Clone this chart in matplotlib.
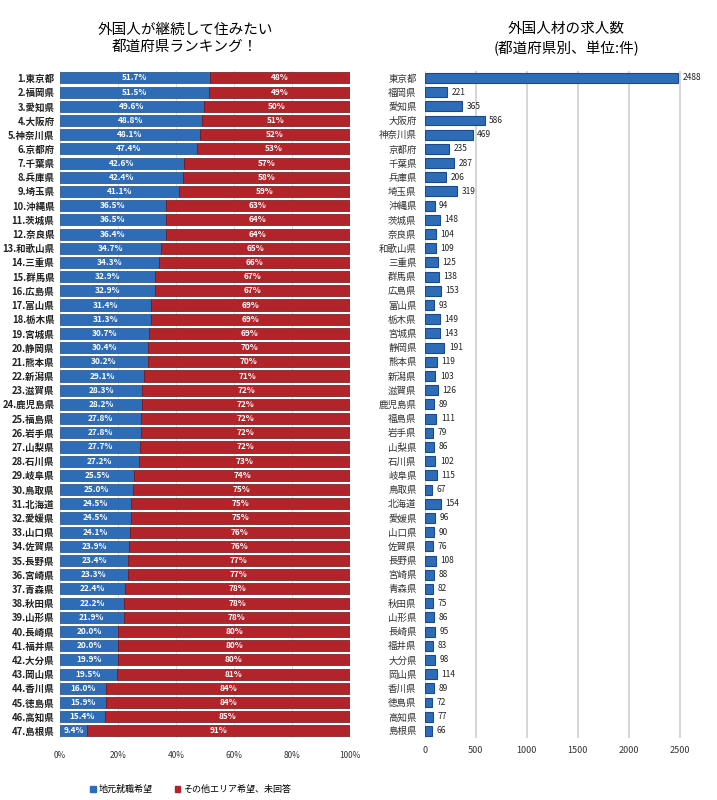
import matplotlib
matplotlib.use("Agg")
import matplotlib.pyplot as plt
from matplotlib.patches import Patch

plt.rcParams["font.family"] = ["Noto Sans CJK JP", "DejaVu Sans"]

# --- data
prefs = ["東京都", "福岡県", "愛知県", "大阪府", "神奈川県", "京都府", "千葉県", "兵庫県",
         "埼玉県", "沖縄県", "茨城県", "奈良県", "和歌山県", "三重県", "群馬県", "広島県",
         "富山県", "栃木県", "宮城県", "静岡県", "熊本県", "新潟県", "滋賀県", "鹿児島県",
         "福島県", "岩手県", "山梨県", "石川県", "岐阜県", "鳥取県", "北海道", "愛媛県",
         "山口県", "佐賀県", "長野県", "宮崎県", "青森県", "秋田県", "山形県", "長崎県",
         "福井県", "大分県", "岡山県", "香川県", "徳島県", "高知県", "島根県"]
local_pct = [51.7, 51.5, 49.6, 48.8, 48.1, 47.4, 42.6, 42.4, 41.1, 36.5, 36.5, 36.4,
             34.7, 34.3, 32.9, 32.9, 31.4, 31.3, 30.7, 30.4, 30.2, 29.1, 28.3, 28.2,
             27.8, 27.8, 27.7, 27.2, 25.5, 25.0, 24.5, 24.5, 24.1, 23.9, 23.4, 23.3,
             22.4, 22.2, 21.9, 20.0, 20.0, 19.9, 19.5, 16.0, 15.9, 15.4, 9.4]
other_pct = [48, 49, 50, 51, 52, 53, 57, 58, 59, 63, 64, 64, 65, 66, 67, 67, 69, 69,
             69, 70, 70, 71, 72, 72, 72, 72, 72, 73, 74, 75, 75, 75, 76, 76, 77, 77,
             78, 78, 78, 80, 80, 80, 81, 84, 84, 85, 91]
jobs = [2488, 221, 365, 586, 469, 235, 287, 206, 319, 94, 148, 104, 109, 125, 138, 153,
        93, 149, 143, 191, 119, 103, 126, 89, 111, 79, 86, 102, 115, 67, 154, 96, 90,
        76, 108, 88, 82, 75, 86, 95, 83, 98, 114, 89, 72, 77, 66]
pct_ticks = [0, 20, 40, 60, 80, 100]
job_ticks = [0, 500, 1000, 1500, 2000, 2500]

BLUE = "#2f6cb8"
RED = "#b3242a"

fig = plt.figure(figsize=(7.17, 8.0), dpi=100)
y = list(range(len(prefs)))

# --- left: ranking (stacked 100%)
ax1 = fig.add_axes([0.0837, 0.0775, 0.4045, 0.834])
rest = [100 - v for v in local_pct]
ax1.barh(y, local_pct, height=0.78, color=BLUE, edgecolor="#1d4a85", linewidth=0.5, zorder=3)
ax1.barh(y, rest, left=local_pct, height=0.78, color=RED, edgecolor="#6e1216",
         linewidth=0.5, zorder=3)
for i, (b, r) in enumerate(zip(local_pct, other_pct)):
    ax1.text(b / 2, i, f"{b:.1f}%", ha="center", va="center", color="white",
             fontsize=6, fontweight="bold", zorder=4)
    ax1.text(b + (100 - b) / 2, i, f"{r}%", ha="center", va="center", color="white",
             fontsize=6, fontweight="bold", zorder=4)
ax1.set_ylim(len(prefs) - 0.5, -0.5)
ax1.set_xlim(0, 100)
ax1.set_yticks(y)
ax1.set_yticklabels([f"{i + 1}.{p}" for i, p in enumerate(prefs)], fontsize=6.8,
                    fontweight="bold", color="#222222")
ax1.set_xticks(pct_ticks)
ax1.set_xticklabels([f"{t}%" for t in pct_ticks], fontsize=6, color="#333333")
ax1.tick_params(axis="both", length=0, pad=4)
ax1.tick_params(axis="x", pad=9)
ax1.grid(axis="x", color="#dddddd", linewidth=0.8, zorder=0)
for s in ax1.spines.values():
    s.set_visible(False)

ax1.legend(handles=[Patch(color=BLUE, label="地元就職希望"),
                    Patch(color=RED, label="その他エリア希望、未回答")],
           loc="upper center", bbox_to_anchor=(0.45, -0.058), ncol=2, frameon=False,
           fontsize=6.5, handlelength=0.6, handleheight=0.6, columnspacing=2.5,
           handletextpad=0.3)

fig.text(0.258, 0.972, "外国人が継続して住みたい\n都道府県ランキング！", ha="center", va="top",
         fontsize=10.5, linespacing=1.35)

# --- right: job openings
ax2 = fig.add_axes([0.5927, 0.0775, 0.3835, 0.834])
ax2.barh(y, jobs, height=0.7, color=BLUE, edgecolor="#1a4a8a", linewidth=0.8, zorder=3)
for i, v in enumerate(jobs):
    ax2.text(v + 45, i, f"{v}", ha="left", va="center", fontsize=6, color="#222222")
ax2.set_ylim(len(prefs) - 0.5, -0.5)
ax2.set_xlim(0, 2700)
ax2.set_yticks(y)
ax2.set_yticklabels(prefs, fontsize=6.8, color="#333333")
ax2.set_xticks(job_ticks)
ax2.set_xticklabels([str(t) for t in job_ticks], fontsize=6.5, color="#333333")
ax2.tick_params(axis="both", length=0, pad=6)
ax2.grid(axis="x", color="#d0d0d0", linewidth=1.2, zorder=0)
for s in ax2.spines.values():
    s.set_visible(False)

fig.text(0.79, 0.972, "外国人材の求人数\n(都道府県別、単位:件)", ha="center", va="top",
         fontsize=10.5, linespacing=1.35)

fig.savefig("out.png", dpi=100, facecolor="white")
